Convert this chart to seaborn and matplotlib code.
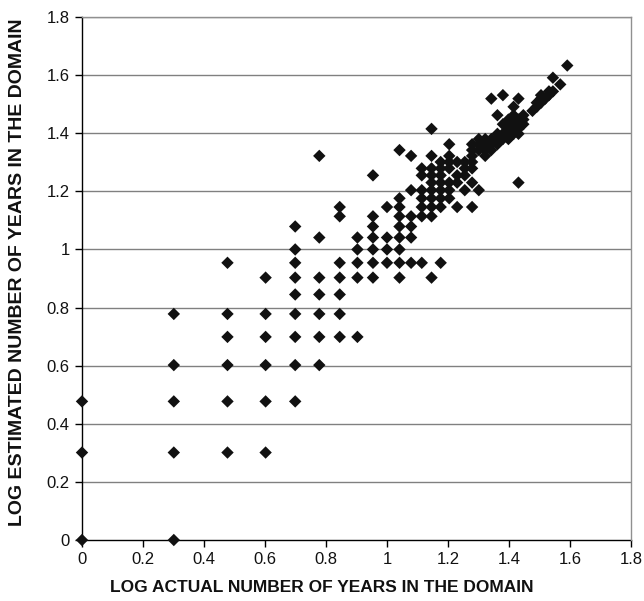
import numpy as np
import pandas as pd
import matplotlib
matplotlib.use("Agg")
import matplotlib.pyplot as plt
import seaborn as sns
from matplotlib.ticker import FuncFormatter

# Log actual years (x) and log estimated years (y)
log_actual = [
    0, 0, 0,
    0.301, 0.301, 0.301, 0.301, 0.301,
    0.477, 0.477, 0.477, 0.477, 0.477, 0.477,
    0.602, 0.602, 0.602, 0.602, 0.602, 0.602,
    0.699, 0.699, 0.699, 0.699, 0.699, 0.699, 0.699, 0.699, 0.699,
    0.778, 0.778, 0.778, 0.778, 0.778, 0.778, 0.778,
    0.845, 0.845, 0.845, 0.845, 0.845, 0.845, 0.845,
    0.903, 0.903, 0.903, 0.903, 0.903,
    0.954, 0.954, 0.954, 0.954, 0.954, 0.954, 0.954,
    1.0, 1.0, 1.0, 1.0,
    1.041, 1.041, 1.041, 1.041, 1.041, 1.041, 1.041, 1.041, 1.041,
    1.079, 1.079, 1.079, 1.079, 1.079, 1.079,
    1.114, 1.114, 1.114, 1.114, 1.114, 1.114, 1.114,
    1.146, 1.146, 1.146, 1.146, 1.146, 1.146, 1.146, 1.146, 1.146, 1.146,
    1.176, 1.176, 1.176, 1.176, 1.176, 1.176, 1.176, 1.176,
    1.204, 1.204, 1.204, 1.204, 1.204, 1.204, 1.204,
    1.230, 1.230, 1.230, 1.230,
    1.255, 1.255, 1.255, 1.255,
    1.279, 1.279, 1.279, 1.279, 1.279, 1.279, 1.279,
    1.301, 1.301, 1.301, 1.301,
    1.322, 1.322, 1.322, 1.322,
    1.342, 1.342, 1.342, 1.342,
    1.362, 1.362, 1.362, 1.362,
    1.380, 1.380, 1.380, 1.380,
    1.398, 1.398, 1.398, 1.398,
    1.415, 1.415, 1.415, 1.415, 1.415,
    1.431, 1.431, 1.431, 1.431, 1.431,
    1.447, 1.447, 1.447,
    1.477,
    1.491, 1.491,
    1.505, 1.505, 1.505,
    1.519,
    1.531, 1.531,
    1.544, 1.544,
    1.568,
    1.591,
]
log_estimated = [
    0, 0.301, 0.477,
    0, 0.301, 0.477, 0.602, 0.778,
    0.301, 0.477, 0.602, 0.699, 0.778, 0.954,
    0.301, 0.477, 0.602, 0.699, 0.778, 0.903,
    0.477, 0.602, 0.699, 0.778, 0.845, 0.903, 0.954, 1.0, 1.079,
    0.602, 0.699, 0.778, 0.845, 0.903, 1.041, 1.322,
    0.699, 0.778, 0.845, 0.903, 0.954, 1.114, 1.146,
    0.699, 0.903, 0.954, 1.0, 1.041,
    0.903, 0.954, 1.0, 1.041, 1.079, 1.114, 1.255,
    0.954, 1.0, 1.041, 1.146,
    0.903, 0.954, 1.0, 1.041, 1.079, 1.114, 1.146, 1.176, 1.342,
    0.954, 1.041, 1.079, 1.114, 1.204, 1.322,
    0.954, 1.114, 1.146, 1.176, 1.204, 1.255, 1.279,
    0.903, 1.114, 1.146, 1.176, 1.204, 1.230, 1.255, 1.279, 1.322, 1.415,
    0.954, 1.146, 1.176, 1.204, 1.230, 1.255, 1.279, 1.301,
    1.176, 1.204, 1.230, 1.279, 1.301, 1.322, 1.362,
    1.146, 1.230, 1.255, 1.301,
    1.204, 1.255, 1.279, 1.301,
    1.146, 1.230, 1.279, 1.301, 1.322, 1.342, 1.362,
    1.204, 1.342, 1.362, 1.380,
    1.322, 1.342, 1.362, 1.380,
    1.342, 1.362, 1.380, 1.519,
    1.362, 1.380, 1.398, 1.462,
    1.380, 1.398, 1.431, 1.531,
    1.380, 1.398, 1.415, 1.447,
    1.398, 1.415, 1.431, 1.462, 1.491,
    1.230, 1.398, 1.415, 1.447, 1.519,
    1.431, 1.447, 1.462,
    1.477,
    1.491, 1.505,
    1.505, 1.519, 1.531,
    1.519,
    1.531, 1.544,
    1.544, 1.591,
    1.568,
    1.633,
]

x_label = "LOG ACTUAL NUMBER OF YEARS IN THE DOMAIN"
y_label = "LOG ESTIMATED NUMBER OF YEARS IN THE DOMAIN"
tick_values = [0, 0.2, 0.4, 0.6, 0.8, 1.0, 1.2, 1.4, 1.6, 1.8]

df = pd.DataFrame({"actual": log_actual, "estimated": log_estimated})

sns.set_style("white")
plt.rcParams["font.family"] = ["Liberation Sans", "DejaVu Sans"]

fig = plt.figure(figsize=(6.44, 6.01), dpi=100)
ax = fig.add_axes([82 / 644, 1 - 540 / 601, (631 - 82) / 644, (540 - 17) / 601])

for v in tick_values[1:]:
    ax.axhline(v, color="#808080", lw=1.0, zorder=1)

sns.scatterplot(data=df, x="actual", y="estimated", ax=ax, marker="D",
                s=40, color="#111111", edgecolor="none", zorder=3,
                clip_on=False, legend=False)

ax.set_xlim(0, 1.8)
ax.set_ylim(0, 1.8)
ax.set_xticks(tick_values)
ax.set_yticks(tick_values)
fmt = FuncFormatter(lambda v, p: f"{v:g}")
ax.xaxis.set_major_formatter(fmt)
ax.yaxis.set_major_formatter(fmt)
ax.tick_params(axis="both", direction="out", length=5, width=1, color="black",
               labelsize=12, labelcolor="#111111", pad=4,
               bottom=True, left=True)

for side in ["left", "bottom"]:
    ax.spines[side].set_color("black")
    ax.spines[side].set_linewidth(1.0)
for side in ["top", "right"]:
    ax.spines[side].set_color("#909090")
    ax.spines[side].set_linewidth(1.0)
ax.spines["left"].set_zorder(2)
ax.spines["bottom"].set_zorder(2)

ax.set_xlabel(x_label, fontsize=12.5, fontweight="bold", color="#111111")
ax.set_ylabel(y_label, fontsize=14, fontweight="bold", color="#111111")
ax.xaxis.label.set_va("center")
ax.yaxis.label.set_va("center")
ax.xaxis.set_label_coords((322 - 82) / 549, (540 - 587) / 523)
ax.yaxis.set_label_coords((18 - 82) / 549, (540 - 272) / 523)

fig.savefig("out.png", dpi=100, facecolor="white")
